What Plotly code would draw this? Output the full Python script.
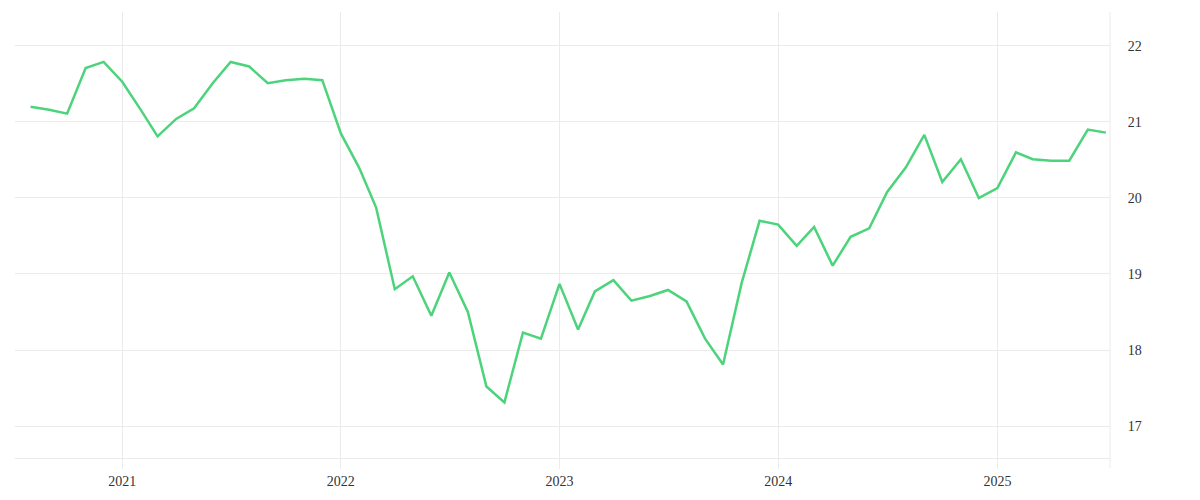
import plotly.graph_objects as go
import pandas as pd

dates = pd.date_range("2020-08-01", "2025-07-01", freq="MS")
values = [
    21.20, 21.16, 21.11, 21.71, 21.79,
    21.53, 21.16, 20.81, 21.04, 21.18, 21.51, 21.79, 21.73, 21.51, 21.55, 21.57, 21.55,
    20.85, 20.39, 19.87, 18.80, 18.97, 18.45, 19.02, 18.50, 17.52, 17.31, 18.23, 18.15,
    18.87, 18.27, 18.77, 18.92, 18.65, 18.71, 18.79, 18.64, 18.15, 17.81, 18.88, 19.70,
    19.65, 19.37, 19.62, 19.11, 19.49, 19.60, 20.08, 20.40, 20.83, 20.21, 20.51, 20.00,
    20.13, 20.60, 20.51, 20.49, 20.49, 20.90, 20.86,
]
x_ticks = ["2021-01-01", "2022-01-01", "2023-01-01", "2024-01-01", "2025-01-01"]
x_tick_labels = ["2021", "2022", "2023", "2024", "2025"]
y_ticks = [17, 18, 19, 20, 21, 22]

GRID = "#ebebeb"

fig = go.Figure()
fig.add_trace(go.Scatter(
    x=dates, y=values, mode="lines",
    line=dict(color="#4cd37b", width=2.5),
    hoverinfo="x+y", showlegend=False,
))

fig.update_layout(
    width=1200, height=500,
    margin=dict(l=7, r=98, t=4, b=50),
    paper_bgcolor="white", plot_bgcolor="white",
    font=dict(family="Liberation Serif, Times New Roman, serif", size=14, color="#333"),
    xaxis=dict(
        range=["2020-07-06", "2025-07-08"],
        tickvals=x_ticks, ticktext=x_tick_labels,
        showgrid=True, gridcolor=GRID, gridwidth=1,
        showline=True, linecolor=GRID, linewidth=1,
        ticks="outside", ticklen=10, tickcolor=GRID, tickwidth=1,
        zeroline=False,
    ),
    yaxis=dict(
        side="right",
        range=[16.579, 22.447],
        tickvals=y_ticks,
        showgrid=True, gridcolor=GRID, gridwidth=1,
        showline=False, zeroline=False,
        ticks="outside", ticklen=14, tickcolor="rgba(0,0,0,0)",
    ),
    shapes=[dict(
        type="line", xref="paper", yref="paper",
        x0=1, x1=1, y0=-10 / 446, y1=1,
        line=dict(color=GRID, width=1), layer="below",
    )],
)

fig.write_html("out.html")
